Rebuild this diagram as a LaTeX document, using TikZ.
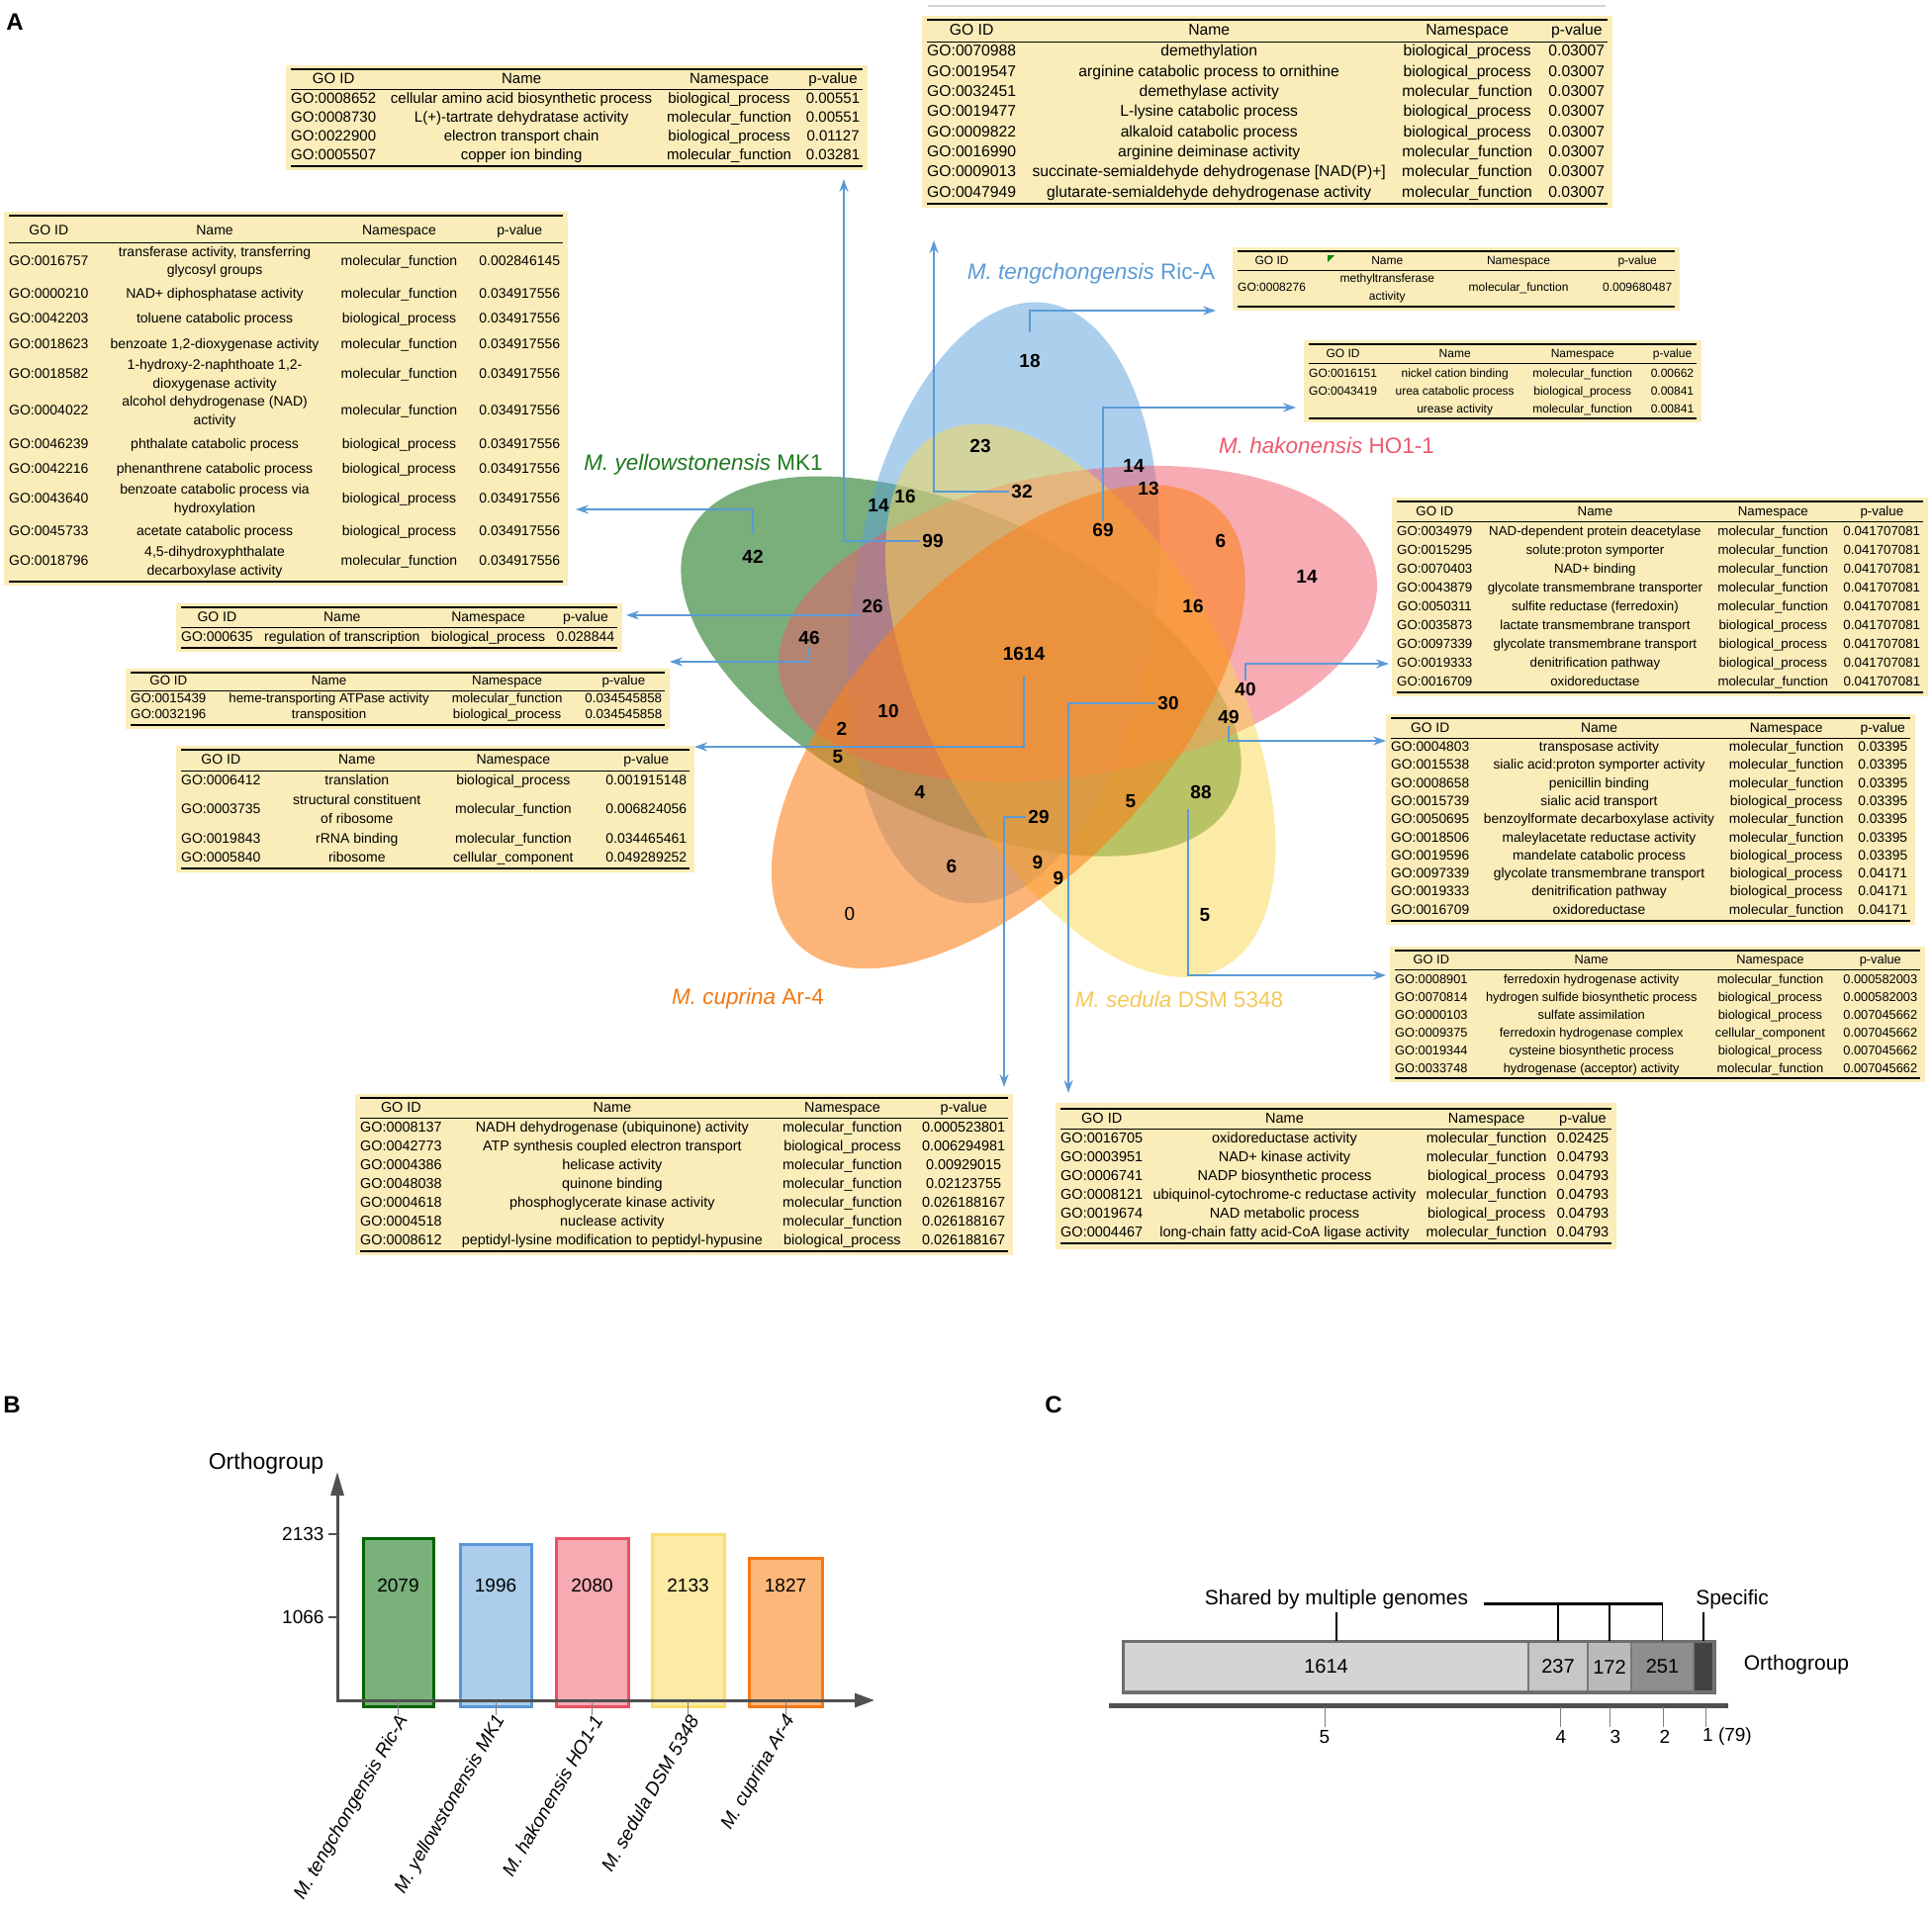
\documentclass[tikz,border=0pt]{standalone}
\usepackage{fontspec}
\setmainfont{Liberation Sans}
\usepackage{booktabs}
\usetikzlibrary{arrows.meta}

\definecolor{tabfill}{RGB}{251,237,185}
\definecolor{arrblue}{RGB}{91,155,213}
\definecolor{vgreen}{RGB}{40,125,40}
\definecolor{vblue}{RGB}{90,160,220}
\definecolor{vred}{RGB}{240,90,105}
\definecolor{vyellow}{RGB}{250,215,80}
\definecolor{vorange}{RGB}{250,130,30}
\definecolor{lgreen}{RGB}{30,120,30}
\definecolor{lred}{RGB}{235,90,110}
\definecolor{lorange}{RGB}{240,120,20}
\definecolor{lyellow}{RGB}{245,200,90}
\definecolor{axgray}{RGB}{80,80,80}
\definecolor{segline}{RGB}{120,120,120}

\setlength{\aboverulesep}{0pt}
\setlength{\belowrulesep}{0pt}
\setlength{\heavyrulewidth}{2pt}
\setlength{\lightrulewidth}{1.2pt}
\setlength{\tabcolsep}{3pt}
\newcommand{\gohead}{\toprule GO ID & Name & Namespace & p-value\\ \midrule}
\newcommand{\twol}[2]{{\renewcommand{\arraystretch}{1}\begin{tabular}{@{}c@{}}#1\\#2\end{tabular}}}

\begin{document}
\begin{tikzpicture}[x=1pt, y=-1pt,
  gotab/.style={fill=tabfill, anchor=north west, inner xsep=5pt, inner ysep=3pt},
  cnt/.style={font=\fontsize{19}{19}\selectfont\bfseries, inner sep=2pt},
  spl/.style={font=\fontsize{22.5}{24}\selectfont},
  arr/.style={draw=arrblue, line width=2pt, -{Stealth[length=13pt,width=9pt]}},
  panel/.style={font=\fontsize{24}{24}\selectfont\bfseries},
  bar/.style={line width=3pt},
  btxt/.style={font=\fontsize{19}{19}\selectfont},
  blab/.style={font=\fontsize{19}{19}\selectfont\itshape, rotate=60, anchor=east},
  seg/.style={anchor=west, minimum height=50pt, draw=segline, line width=2pt, inner sep=0pt, font=\fontsize{20}{20}\selectfont},
  ctxt/.style={font=\fontsize{21}{21}\selectfont}]
\useasboundingbox (0,0) rectangle (1953,1930);

% panel A: Venn diagram
\fill[vgreen, fill opacity=0.62, rotate around={-26:(971.5,673.6)}] (971.5,673.6) ellipse [x radius=306pt, y radius=153pt];
\fill[vblue, fill opacity=0.5, rotate around={82:(1014.9,609.3)}] (1014.9,609.3) ellipse [x radius=306pt, y radius=153pt];
\fill[vred, fill opacity=0.5, rotate around={10:(1089.5,630.7)}] (1089.5,630.7) ellipse [x radius=306pt, y radius=153pt];
\fill[vyellow, fill opacity=0.5, rotate around={-62:(1092.2,708.2)}] (1092.2,708.2) ellipse [x radius=306pt, y radius=153pt];
\fill[vorange, fill opacity=0.6, rotate around={46:(1019.3,734.7)}] (1019.3,734.7) ellipse [x radius=306pt, y radius=153pt];

\node[panel] (pA) at (15,22) {A};

\node[spl, text=arrblue] (lbT) at (1103,277) {\textit{M. tengchongensis} Ric-A};
\node[spl, text=lred] (lbH) at (1341,450) {\textit{M. hakonensis} HO1-1};
\node[spl, text=lgreen] (lbY) at (711,470) {\textit{M. yellowstonensis} MK1};
\node[spl, text=lorange] (lbC) at (756,1010) {\textit{M. cuprina} Ar-4};
\node[spl, text=lyellow] (lbS) at (1192,1010) {\textit{M. sedula} DSM 5348};

\node[cnt] (n18) at (1041,365) {18};
\node[cnt] (n23) at (991,451) {23};
\node[cnt] (n32) at (1033,497) {32};
\node[cnt] (n14a) at (1146,471) {14};
\node[cnt] (n13) at (1161,494) {13};
\node[cnt] (n69) at (1115,536) {69};
\node[cnt] (n6a) at (1234,547) {6};
\node[cnt] (n14b) at (1321,583) {14};
\node[cnt] (n16a) at (1206,613) {16};
\node[cnt] (n14c) at (888,511) {14};
\node[cnt] (n16b) at (915,502) {16};
\node[cnt] (n99) at (943,547) {99};
\node[cnt] (n42) at (761,563) {42};
\node[cnt] (n26) at (882,613) {26};
\node[cnt] (n46) at (818,645) {46};
\node[cnt] (n1614) at (1035,661) {1614};
\node[cnt] (n10) at (898,719) {10};
\node[cnt] (n2) at (851,737) {2};
\node[cnt] (n5a) at (847,765) {5};
\node[cnt] (n30) at (1181,711) {30};
\node[cnt] (n40) at (1259,697) {40};
\node[cnt] (n49) at (1242,725) {49};
\node[cnt] (n4) at (930,801) {4};
\node[cnt] (n29) at (1050,826) {29};
\node[cnt] (n5b) at (1143,810) {5};
\node[cnt] (n88) at (1214,801) {88};
\node[cnt] (n6b) at (962,876) {6};
\node[cnt] (n9a) at (1049,872) {9};
\node[cnt] (n9b) at (1070,888) {9};
\node[cnt, font=\fontsize{19}{19}\selectfont\mdseries] (n0) at (859,924) {0};
\node[cnt] (n5c) at (1218,925) {5};

% GO tables
\node[gotab, font=\fontsize{15}{19}\selectfont] (t99) at (289,66) {%
\begin{tabular*}{578pt}{@{\extracolsep{\fill}}cccc}\gohead
GO:0008652 & cellular amino acid biosynthetic process & biological\_process & 0.00551\\
GO:0008730 & L(+)-tartrate dehydratase activity & molecular\_function & 0.00551\\
GO:0022900 & electron transport chain & biological\_process & 0.01127\\
GO:0005507 & copper ion binding & molecular\_function & 0.03281\\
\bottomrule\end{tabular*}};

\draw[gray!35, line width=2pt] (938,6) -- (1623,6);
\node[gotab, font=\fontsize{15.7}{20.3}\selectfont] (t32) at (932,16) {%
\begin{tabular*}{688pt}{@{\extracolsep{\fill}}cccc}\gohead
GO:0070988 & demethylation & biological\_process & 0.03007\\
GO:0019547 & arginine catabolic process to ornithine & biological\_process & 0.03007\\
GO:0032451 & demethylase activity & molecular\_function & 0.03007\\
GO:0019477 & L-lysine catabolic process & biological\_process & 0.03007\\
GO:0009822 & alkaloid catabolic process & biological\_process & 0.03007\\
GO:0016990 & arginine deiminase activity & molecular\_function & 0.03007\\
GO:0009013 & succinate-semialdehyde dehydrogenase [NAD(P)+] & molecular\_function & 0.03007\\
GO:0047949 & glutarate-semialdehyde dehydrogenase activity & molecular\_function & 0.03007\\
\bottomrule\end{tabular*}};

\node[gotab, font=\fontsize{14}{18.7}\selectfont] (t42) at (4,214) {\renewcommand{\arraystretch}{1.37}%
\begin{tabular*}{560pt}{@{\extracolsep{\fill}}cccc}\gohead
GO:0016757 & \twol{transferase activity, transferring}{glycosyl groups} & molecular\_function & 0.002846145\\
GO:0000210 & NAD+ diphosphatase activity & molecular\_function & 0.034917556\\
GO:0042203 & toluene catabolic process & biological\_process & 0.034917556\\
GO:0018623 & benzoate 1,2-dioxygenase activity & molecular\_function & 0.034917556\\
GO:0018582 & \twol{1-hydroxy-2-naphthoate 1,2-}{dioxygenase activity} & molecular\_function & 0.034917556\\
GO:0004022 & \twol{alcohol dehydrogenase (NAD)}{activity} & molecular\_function & 0.034917556\\
GO:0046239 & phthalate catabolic process & biological\_process & 0.034917556\\
GO:0042216 & phenanthrene catabolic process & biological\_process & 0.034917556\\
GO:0043640 & \twol{benzoate catabolic process via}{hydroxylation} & biological\_process & 0.034917556\\
GO:0045733 & acetate catabolic process & biological\_process & 0.034917556\\
GO:0018796 & \twol{4,5-dihydroxyphthalate}{decarboxylase activity} & molecular\_function & 0.034917556\\
\bottomrule\end{tabular*}};

\node[gotab, font=\fontsize{12}{17.4}\selectfont] (t18) at (1246,250) {%
\begin{tabular*}{442pt}{@{\extracolsep{\fill}}cccc}\gohead
GO:0008276 & \twol{methyltransferase}{activity} & molecular\_function & 0.009680487\\
\bottomrule\end{tabular*}};
\fill[green!55!black] (1342,258) -- (1349,258) -- (1342,265) -- cycle;

\node[gotab, font=\fontsize{12}{18}\selectfont] (t69) at (1318,344) {%
\begin{tabular*}{392pt}{@{\extracolsep{\fill}}cccc}\gohead
GO:0016151 & nickel cation binding & molecular\_function & 0.00662\\
GO:0043419 & urea catabolic process & biological\_process & 0.00841\\
 & urease activity & molecular\_function & 0.00841\\
\bottomrule\end{tabular*}};

\node[gotab, font=\fontsize{13.3}{19}\selectfont] (t40) at (1407,503) {%
\begin{tabular*}{532pt}{@{\extracolsep{\fill}}cccc}\gohead
GO:0034979 & NAD-dependent protein deacetylase & molecular\_function & 0.041707081\\
GO:0015295 & solute:proton symporter & molecular\_function & 0.041707081\\
GO:0070403 & NAD+ binding & molecular\_function & 0.041707081\\
GO:0043879 & glycolate transmembrane transporter & molecular\_function & 0.041707081\\
GO:0050311 & sulfite reductase (ferredoxin) & molecular\_function & 0.041707081\\
GO:0035873 & lactate transmembrane transport & biological\_process & 0.041707081\\
GO:0097339 & glycolate transmembrane transport & biological\_process & 0.041707081\\
GO:0019333 & denitrification pathway & biological\_process & 0.041707081\\
GO:0016709 & oxidoreductase & molecular\_function & 0.041707081\\
\bottomrule\end{tabular*}};

\node[gotab, font=\fontsize{13.8}{18.3}\selectfont] (t49) at (1401,722) {%
\begin{tabular*}{525pt}{@{\extracolsep{\fill}}cccc}\gohead
GO:0004803 & transposase activity & molecular\_function & 0.03395\\
GO:0015538 & sialic acid:proton symporter activity & molecular\_function & 0.03395\\
GO:0008658 & penicillin binding & molecular\_function & 0.03395\\
GO:0015739 & sialic acid transport & biological\_process & 0.03395\\
GO:0050695 & benzoylformate decarboxylase activity & molecular\_function & 0.03395\\
GO:0018506 & maleylacetate reductase activity & molecular\_function & 0.03395\\
GO:0019596 & mandelate catabolic process & biological\_process & 0.03395\\
GO:0097339 & glycolate transmembrane transport & biological\_process & 0.04171\\
GO:0019333 & denitrification pathway & biological\_process & 0.04171\\
GO:0016709 & oxidoreductase & molecular\_function & 0.04171\\
\bottomrule\end{tabular*}};

\node[gotab, font=\fontsize{12.8}{18}\selectfont] (t88) at (1405,957) {%
\begin{tabular*}{531pt}{@{\extracolsep{\fill}}cccc}\gohead
GO:0008901 & ferredoxin hydrogenase activity & molecular\_function & 0.000582003\\
GO:0070814 & hydrogen sulfide biosynthetic process & biological\_process & 0.000582003\\
GO:0000103 & sulfate assimilation & biological\_process & 0.007045662\\
GO:0009375 & ferredoxin hydrogenase complex & cellular\_component & 0.007045662\\
GO:0019344 & cysteine biosynthetic process & biological\_process & 0.007045662\\
GO:0033748 & hydrogenase (acceptor) activity & molecular\_function & 0.007045662\\
\bottomrule\end{tabular*}};

\node[gotab, font=\fontsize{14.4}{19}\selectfont] (t29) at (359,1106) {%
\begin{tabular*}{655pt}{@{\extracolsep{\fill}}cccc}\gohead
GO:0008137 & NADH dehydrogenase (ubiquinone) activity & molecular\_function & 0.000523801\\
GO:0042773 & ATP synthesis coupled electron transport & biological\_process & 0.006294981\\
GO:0004386 & helicase activity & molecular\_function & 0.00929015\\
GO:0048038 & quinone binding & molecular\_function & 0.02123755\\
GO:0004618 & phosphoglycerate kinase activity & molecular\_function & 0.026188167\\
GO:0004518 & nuclease activity & molecular\_function & 0.026188167\\
GO:0008612 & peptidyl-lysine modification to peptidyl-hypusine & biological\_process & 0.026188167\\
\bottomrule\end{tabular*}};

\node[gotab, font=\fontsize{14.5}{19}\selectfont, inner ysep=5pt] (t30) at (1067,1115) {%
\begin{tabular*}{557pt}{@{\extracolsep{\fill}}cccc}\gohead
GO:0016705 & oxidoreductase activity & molecular\_function & 0.02425\\
GO:0003951 & NAD+ kinase activity & molecular\_function & 0.04793\\
GO:0006741 & NADP biosynthetic process & biological\_process & 0.04793\\
GO:0008121 & ubiquinol-cytochrome-c reductase activity & molecular\_function & 0.04793\\
GO:0019674 & NAD metabolic process & biological\_process & 0.04793\\
GO:0004467 & long-chain fatty acid-CoA ligase activity & molecular\_function & 0.04793\\
\bottomrule\end{tabular*}};

\node[gotab, font=\fontsize{14}{19}\selectfont] (t26) at (178,610) {%
\begin{tabular*}{441pt}{@{\extracolsep{\fill}}cccc}\gohead
GO:000635 & regulation of transcription & biological\_process & 0.028844\\
\bottomrule\end{tabular*}};

\node[gotab, font=\fontsize{13.3}{16.5}\selectfont] (t46) at (127,676) {%
\begin{tabular*}{540pt}{@{\extracolsep{\fill}}cccc}\gohead
GO:0015439 & heme-transporting ATPase activity & molecular\_function & 0.034545858\\
GO:0032196 & transposition & biological\_process & 0.034545858\\
\bottomrule\end{tabular*}};

\node[gotab, font=\fontsize{14}{19.5}\selectfont] (t1614) at (178,754) {%
\begin{tabular*}{514pt}{@{\extracolsep{\fill}}cccc}\gohead
GO:0006412 & translation & biological\_process & 0.001915148\\
GO:0003735 & \twol{structural constituent}{of ribosome} & molecular\_function & 0.006824056\\
GO:0019843 & rRNA binding & molecular\_function & 0.034465461\\
GO:0005840 & ribosome & cellular\_component & 0.049289252\\
\bottomrule\end{tabular*}};

% arrows from the counts to the tables
\coordinate (e99) at (853,181);
\coordinate (e32) at (944,243);
\coordinate (e18) at (1229,314);
\coordinate (e69) at (1310,412);
\coordinate (e42) at (582,515);
\coordinate (e26) at (633,620);
\coordinate (e46) at (677,669);
\coordinate (e1614) at (702,755);
\coordinate (e29) at (1015,1099);
\coordinate (e30) at (1080,1105);
\coordinate (e40) at (1404,671);
\coordinate (e49) at (1401,749);
\coordinate (e88) at (1401,986);

\draw[arr] (n99.west) -| (e99);
\draw[arr] (n32.west) -| (e32);
\draw[arr] ([yshift=20pt]n18.north) |- (e18);
\draw[arr] (n69.north) |- (e69);
\draw[arr] ([yshift=14pt]n42.north) |- (e42);
\draw[arr] (n26.south west) -- (n26.south west -| e26);
\draw[arr] (n46.south) |- (e46);
\draw[arr] ([yshift=-14pt]n1614.south) |- (e1614);
\draw[arr] (n29.west) -| (e29);
\draw[arr] (n30.west) -| (e30);
\draw[arr] (n40.north) |- (e40);
\draw[arr] (n49.south) |- (e49);
\draw[arr] ([yshift=-8pt]n88.south west) |- (e88);

% panel B: bar chart
\node[panel] (pB) at (12,1420) {B};
\draw[bar, fill={rgb,255:red,122;green,176;blue,122}, draw={rgb,255:red,0;green,100;blue,0}] (367,1725) rectangle (438,1555.3);
\draw[bar, fill={rgb,255:red,172;green,205;blue,235}, draw={rgb,255:red,90;green,150;blue,215}] (465,1725) rectangle (537,1561.8);
\draw[bar, fill={rgb,255:red,246;green,170;blue,178}, draw={rgb,255:red,232;green,80;blue,100}] (562,1725) rectangle (635,1555.2);
\draw[bar, fill={rgb,255:red,252;green,234;blue,165}, draw={rgb,255:red,250;green,222;blue,110}] (659,1725) rectangle (732,1551);
\draw[bar, fill={rgb,255:red,252;green,184;blue,122}, draw={rgb,255:red,245;green,120;blue,20}] (757,1725) rectangle (831,1575.1);
\node[btxt] (bv1) at (402.5,1603) {2079};
\node[btxt] (bv2) at (501,1603) {1996};
\node[btxt] (bv3) at (598.5,1603) {2080};
\node[btxt] (bv4) at (695.5,1603) {2133};
\node[btxt] (bv5) at (794,1603) {1827};
\draw[axgray, line width=3pt, -{Triangle[length=24pt,width=13pt]}] (341,1721) -- (341,1488);
\draw[axgray, line width=3pt, -{Triangle[length=20pt,width=14pt]}] (339.5,1719) -- (884,1719);
\draw[axgray, line width=1.5pt] (332,1551) -- (341,1551);
\draw[axgray, line width=1.5pt] (332,1635) -- (341,1635);
\node[btxt, anchor=east] (yk2) at (331,1551) {2133};
\node[btxt, anchor=east] (yk1) at (331,1635) {1066};
\node[font=\fontsize{23}{23}\selectfont] (yttl) at (269,1480) {Orthogroup};
\draw[gray, line width=1pt] (402.5,1720) -- (402.5,1734);
\draw[gray, line width=1pt] (501,1720) -- (501,1734);
\draw[gray, line width=1pt] (598.5,1720) -- (598.5,1734);
\draw[gray, line width=1pt] (695.5,1720) -- (695.5,1734);
\draw[gray, line width=1pt] (794,1720) -- (794,1734);
\node[blab] (bl1) at (410,1733) {M. tengchongensis Ric-A};
\node[blab] (bl2) at (508,1733) {M. yellowstonensis MK1};
\node[blab] (bl3) at (606,1733) {M. hakonensis HO1-1};
\node[blab] (bl4) at (703,1733) {M. sedula DSM 5348};
\node[blab] (bl5) at (801,1733) {M. cuprina Ar-4};

% panel C: orthogroup bar
\node[panel] (pC) at (1065,1420) {C};
\node[seg, fill={rgb,255:red,212;green,212;blue,212}, minimum width=409pt] (seg1614) at (1135,1685) {1614};
\node[seg, fill={rgb,255:red,198;green,198;blue,198}, minimum width=60pt] (seg237) at (1544,1685) {237};
\node[seg, fill={rgb,255:red,186;green,186;blue,186}, minimum width=44pt] (seg172) at (1604,1685) {172};
\node[seg, fill={rgb,255:red,142;green,142;blue,142}, minimum width=63pt] (seg251) at (1648,1685) {251};
\node[seg, fill={rgb,255:red,66;green,66;blue,66}, minimum width=20pt] (segSp) at (1711,1685) {};
\draw[draw={rgb,255:red,110;green,110;blue,110}, line width=3pt] (seg1614.north west) rectangle (segSp.south east);
\node[ctxt] (shared) at (1351,1617) {Shared by multiple genomes};
\node[ctxt] (spec) at (1751,1617) {Specific};
\node[ctxt] (orthC) at (1816,1683) {Orthogroup};
\coordinate (brk) at ([shift={(12pt,-4pt)}]shared.east);
\draw[line width=1.5pt] (shared.south) -- (shared.south |- seg1614.north);
\draw[line width=3pt] (brk) -- (brk -| seg251.north);
\draw[line width=1.5pt] (seg237.north) -- (seg237.north |- brk);
\draw[line width=1.5pt] (seg172.north) -- (seg172.north |- brk);
\draw[line width=1.5pt] (seg251.north) -- (seg251.north |- brk);
\draw[line width=1.5pt] (segSp.north) -- (segSp.north |- spec.south);
\draw[axgray, line width=5pt] (1121,1724) -- (1747,1724);
\draw[gray, line width=1pt] (1339,1726) -- (1339,1746);
\draw[gray, line width=1pt] (1577,1726) -- (1577,1746);
\draw[gray, line width=1pt] (1627,1726) -- (1627,1746);
\draw[gray, line width=1pt] (1681,1726) -- (1681,1746);
\draw[gray, line width=1pt] (1724,1726) -- (1724,1746);
\node[btxt] (k5) at (1339,1756) {5};
\node[btxt] (k4) at (1578,1756) {4};
\node[btxt] (k3) at (1633,1756) {3};
\node[btxt] (k2) at (1683,1756) {2};
\node[btxt] (k1) at (1746,1756) {1 (79)};
\end{tikzpicture}
\end{document}
